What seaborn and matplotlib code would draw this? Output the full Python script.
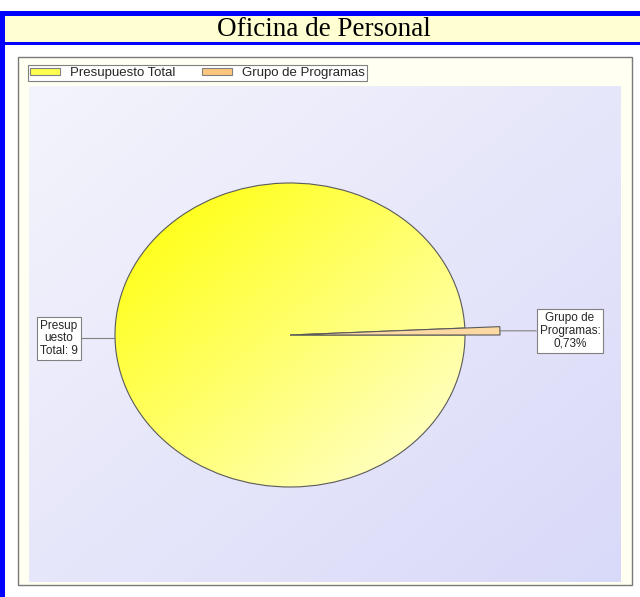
import numpy as np
import matplotlib
matplotlib.use("Agg")
import matplotlib.pyplot as plt
from matplotlib.patches import Rectangle, Patch
from matplotlib.colors import LinearSegmentedColormap
import seaborn as sns

# chart data
title = "Oficina de Personal"
labels = ["Presupuesto Total", "Grupo de Programas"]
shares = [99.27, 0.73]
label_texts = ["Presup\nuesto\nTotal: 9", "Grupo de\nProgramas:\n0,73%"]

sns.set_theme(style="white")
plt.rcParams["font.family"] = ["Liberation Sans", "DejaVu Sans"]

W, H = 640, 597
fig = plt.figure(figsize=(W / 100, H / 100), dpi=100)
fig.patch.set_facecolor("white")


def box(x0, y0, x1, y1):
    # pixel box, origin top-left -> figure fraction [l, b, w, h]
    return [x0 / W, 1 - y1 / H, (x1 - x0) / W, (y1 - y0) / H]


def rect(x0, y0, x1, y1, **kw):
    l, b, w, h = box(x0, y0, x1, y1)
    fig.add_artist(Rectangle((l, b), w, h, transform=fig.transFigure, zorder=-5, **kw))


def diag(n=200):
    # 0 at top-left, 1 at bottom-right
    xx, yy = np.meshgrid(np.linspace(0, 1, n), np.linspace(0, 1, n))
    return (xx + yy) / 2


blue = "#0000FF"
rect(0, 11, 640, 16, facecolor=blue, linewidth=0)
rect(5, 16, 640, 42, facecolor="#FFFFD2", linewidth=0)
rect(5, 42, 640, 45, facecolor=blue, linewidth=0)
rect(0, 11, 5, 597, facecolor=blue, linewidth=0)
rect(18, 57, 632, 585, facecolor="#FFFFF2", edgecolor="#7a7a7a", linewidth=1)

fig.text(324 / W, 1 - 29 / H, title, ha="center", va="center",
         family="Liberation Serif", fontsize=19.5, color="black")

# plot area background
plot_box = box(29, 86, 621, 582)
bg = fig.add_axes(plot_box, zorder=-1)
bg_cmap = LinearSegmentedColormap.from_list("bg", ["#F4F4FC", "#D9D9F9"])
bg.imshow(diag(), cmap=bg_cmap, extent=(0, 1, 0, 1), aspect="auto")
bg.axis("off")

# pie
ax = fig.add_axes(plot_box)
ax.set_facecolor("none")
start = 360 * shares[1] / sum(shares)
wedges, _ = ax.pie(shares, startangle=start, counterclock=True,
                   colors=["none", "#FCD8A2"],
                   wedgeprops=dict(edgecolor="#5a5a5a", linewidth=0.8))
wedges[1].set_radius(1.2)

pie_cmap = LinearSegmentedColormap.from_list("pie", ["#FFFF00", "#FFFFDA"])
img = ax.imshow(diag(), cmap=pie_cmap, extent=(-1, 1, -1, 1), aspect="auto", zorder=0.5)
img.set_clip_path(wedges[0])

# ellipse: centre (290, 335) px, radii 175 x 152 px
cx, cy, rx, ry = 290 - 29, 582 - 335, 175, 152
ax.set_aspect("auto")
ax.set_xlim(-cx / rx, (592 - cx) / rx)
ax.set_ylim(-cy / ry, (496 - cy) / ry)
ax.axis("off")

offsets = [-56, 70]
for w, txt, dx in zip(wedges, label_texts, offsets):
    theta = np.deg2rad((w.theta1 + w.theta2) / 2)
    pt = (w.r * np.cos(theta), w.r * np.sin(theta))
    ax.annotate(txt, xy=pt, xytext=(dx, 0), textcoords="offset pixels",
                ha="center", va="center", fontsize=8.5, linespacing=1.1,
                bbox=dict(boxstyle="square,pad=0.25", facecolor="white",
                          edgecolor="#808080", linewidth=0.8),
                arrowprops=dict(arrowstyle="-", color="#808080", lw=0.8,
                                shrinkA=0, shrinkB=0))

handles = [Patch(facecolor=c, edgecolor="#808080", linewidth=0.8)
           for c in ["#FFFF50", "#FCC77C"]]
leg = fig.legend(handles, labels, loc="upper left",
                 bbox_to_anchor=(28 / W, 1 - 65 / H), ncol=2, frameon=True,
                 fancybox=False, edgecolor="#808080", facecolor="white",
                 framealpha=1, fontsize=9.5, handlelength=2.3, handleheight=0.45,
                 handletextpad=0.75, columnspacing=2.0, borderpad=0.15,
                 borderaxespad=0)
leg.get_frame().set_linewidth(0.8)

fig.savefig("out.png", dpi=100)
